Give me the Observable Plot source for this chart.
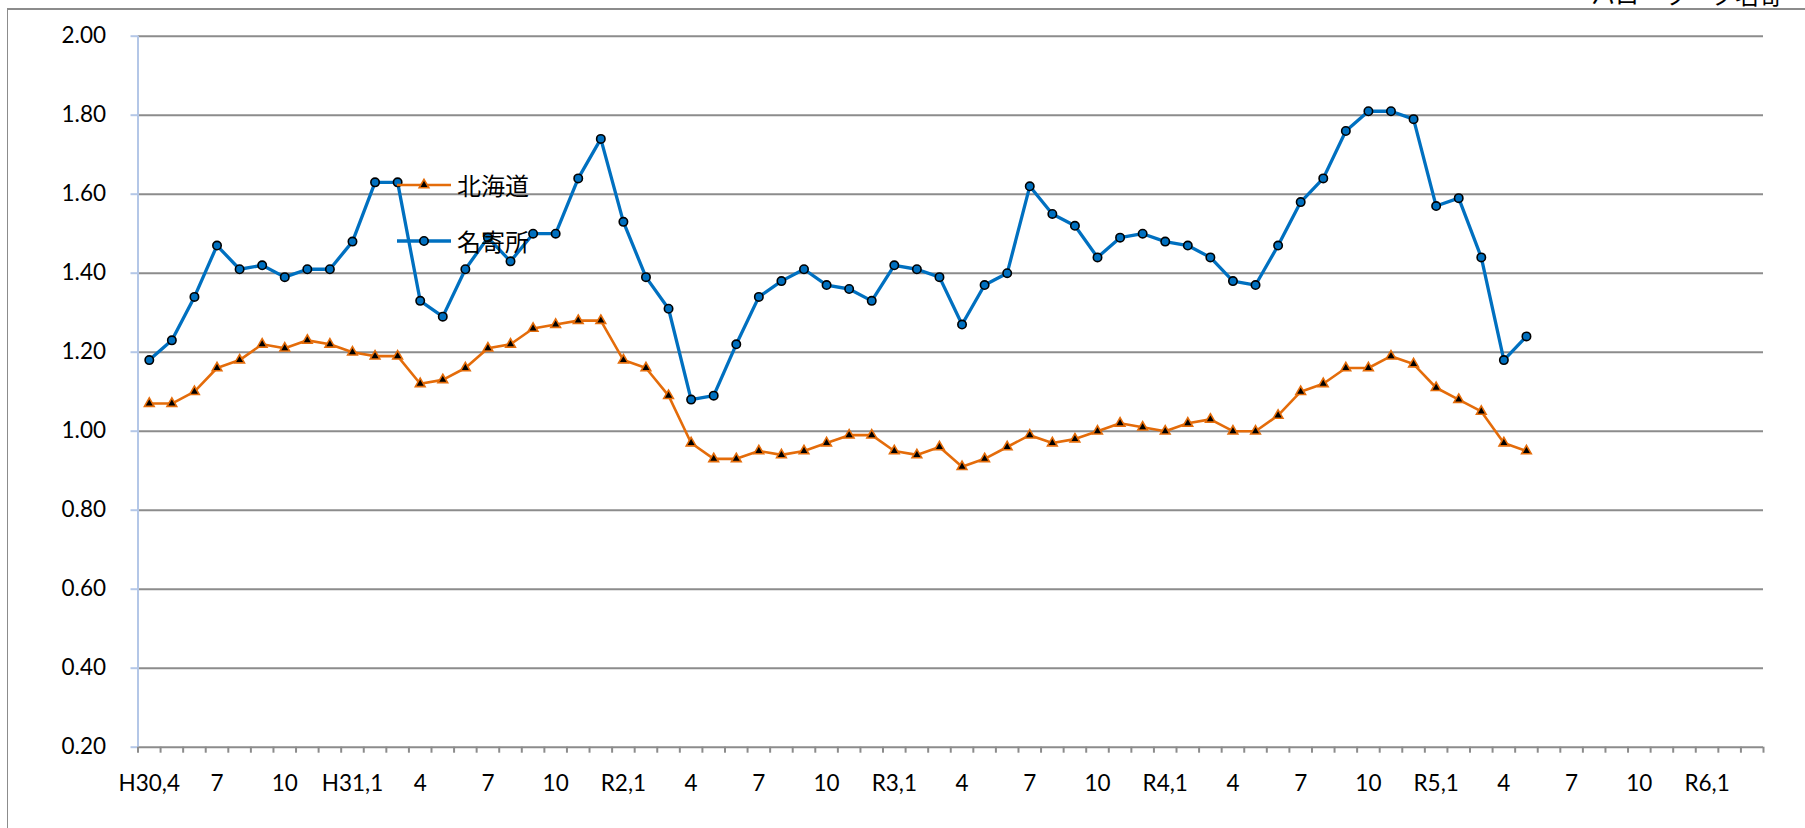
<!DOCTYPE html>
<html>
<head>
<meta charset="utf-8">
<script src="https://cdn.jsdelivr.net/npm/d3@7"></script>
<script src="https://cdn.jsdelivr.net/npm/@observablehq/plot@0.6"></script>
<style>
  html, body { margin: 0; padding: 0; background: #fff; overflow: hidden; }
  #wrap { position: relative; width: 1805px; height: 828px; }
  #frame { position: absolute; left: 7px; top: 8px; width: 1798px; height: 820px;
           border-top: 2px solid #8c8c8c; border-left: 1.5px solid #8c8c8c; box-sizing: border-box; }
  #chart { position: absolute; left: 0; top: 0; }
  #src { position: absolute; right: 22px; top: -18px; font: 24px/24px "Noto Sans CJK JP"; color: #000; white-space: nowrap; }
  .leg { position: absolute; display: flex; align-items: center; height: 30px; }
  .leg span { font: 24px/30px "Noto Sans CJK JP"; color: #000; margin-left: 4px; }
</style>
</head>
<body>
<div id="wrap">
  <div id="frame"></div>
  <div id="src">ハローワーク名寄</div>
  <div id="chart"></div>
  <div class="leg" id="leg1" style="left:397px; top:170px;"></div>
  <div class="leg" id="leg2" style="left:397px; top:226px;"></div>
</div>
<script>
// ---- data (monthly, starting H30.4 = April 2018) ----
const seriesNames = ["北海道", "名寄所"];
const seriesColors = ["#e46c0a", "#0070c0"];

// 北海道
const hokkaido = [
  1.07, 1.07, 1.10, 1.16, 1.18, 1.22, 1.21, 1.23, 1.22, 1.20, 1.19, 1.19,
  1.12, 1.13, 1.16, 1.21, 1.22, 1.26, 1.27, 1.28, 1.28, 1.18, 1.16, 1.09,
  0.97, 0.93, 0.93, 0.95, 0.94, 0.95, 0.97, 0.99, 0.99, 0.95, 0.94, 0.96,
  0.91, 0.93, 0.96, 0.99, 0.97, 0.98, 1.00, 1.02, 1.01, 1.00, 1.02, 1.03,
  1.00, 1.00, 1.04, 1.10, 1.12, 1.16, 1.16, 1.19, 1.17, 1.11, 1.08, 1.05,
  0.97, 0.95
];
// 名寄所
const nayoro = [
  1.18, 1.23, 1.34, 1.47, 1.41, 1.42, 1.39, 1.41, 1.41, 1.48, 1.63, 1.63,
  1.33, 1.29, 1.41, 1.49, 1.43, 1.50, 1.50, 1.64, 1.74, 1.53, 1.39, 1.31,
  1.08, 1.09, 1.22, 1.34, 1.38, 1.41, 1.37, 1.36, 1.33, 1.42, 1.41, 1.39,
  1.27, 1.37, 1.40, 1.62, 1.55, 1.52, 1.44, 1.49, 1.50, 1.48, 1.47, 1.44,
  1.38, 1.37, 1.47, 1.58, 1.64, 1.76, 1.81, 1.81, 1.79, 1.57, 1.59, 1.44,
  1.18, 1.24
];

// x categories: 72 months, H30.4 .. R6.3; labels every 3 months
const monthCount = 72;
const tickLabels = ["H30,4","7","10","H31,1","4","7","10","R2,1","4","7","10","R3,1",
                    "4","7","10","R4,1","4","7","10","R5,1","4","7","10","R6,1"];
const yTicks = [0.20, 0.40, 0.60, 0.80, 1.00, 1.20, 1.40, 1.60, 1.80, 2.00];

// ---- derived ----
const labelIdx = tickLabels.map((_, k) => k * 3);
const boundaries = d3.range(monthCount + 1).map(i => i - 0.5);
const hk = hokkaido.map((v, i) => ({i, v}));
const ny = nayoro.map((v, i) => ({i, v}));

const GRID = "#8c8c8c";
const AXISBLUE = "#b4c7e7";

const plot = Plot.plot({
  width: 1805,
  height: 828,
  marginLeft: 137.5,
  marginRight: 42,
  marginTop: 35.7,
  marginBottom: 81.3,
  style: {background: "transparent", fontFamily: "Lato, 'Open Sans', sans-serif", fontSize: "22.5px", color: "#000"},
  x: {type: "linear", domain: [-0.5, monthCount - 0.5], label: null},
  y: {type: "linear", domain: [0.2, 2.0], label: null},
  marks: [
    Plot.ruleY(yTicks, {stroke: GRID, strokeWidth: 2}),
    Plot.ruleX([-0.5], {stroke: AXISBLUE, strokeWidth: 2}),
    Plot.axisY(yTicks, {tickSize: 7, stroke: AXISBLUE, strokeWidth: 2, tickFormat: () => "", label: null}),
    Plot.axisY(yTicks, {tickSize: 0, tickPadding: 32, tickFormat: d3.format(".2f"), fill: "#000", label: null}),
    Plot.axisX(boundaries, {tickSize: 6, stroke: GRID, strokeWidth: 2, tickFormat: () => "", label: null}),
    Plot.axisX(labelIdx, {tickSize: 0, tickPadding: 28, tickFormat: (d) => tickLabels[d / 3], fill: "#000", label: null}),
    Plot.line(hk, {x: "i", y: "v", stroke: seriesColors[0], strokeWidth: 2.6}),
    Plot.dot(hk, {x: "i", y: "v", symbol: "triangle", r: 3.6, fill: "#000", stroke: seriesColors[0], strokeWidth: 1.6}),
    Plot.line(ny, {x: "i", y: "v", stroke: seriesColors[1], strokeWidth: 3.3}),
    Plot.dot(ny, {x: "i", y: "v", symbol: "circle", r: 4.2, fill: seriesColors[1], stroke: "#000", strokeWidth: 1.6})
  ]
});
document.getElementById("chart").appendChild(plot);

// ---- legend ----
function swatch(color, sym, r, fill, stroke, lw) {
  const svg = d3.create("svg").attr("width", 56).attr("height", 30);
  svg.append("line").attr("x1", 0).attr("x2", 54).attr("y1", 15).attr("y2", 15)
     .attr("stroke", color).attr("stroke-width", lw);
  svg.append("path").attr("transform", "translate(27,15)")
     .attr("d", d3.symbol(sym, Math.PI * r * r)())
     .attr("fill", fill).attr("stroke", stroke).attr("stroke-width", 1.6);
  return svg.node();
}
const l1 = document.getElementById("leg1");
l1.appendChild(swatch(seriesColors[0], d3.symbolTriangle, 3.6, "#000", seriesColors[0], 2.6));
const s1 = document.createElement("span"); s1.textContent = seriesNames[0]; l1.appendChild(s1);
const l2 = document.getElementById("leg2");
l2.appendChild(swatch(seriesColors[1], d3.symbolCircle, 4.2, seriesColors[1], "#000", 3.3));
const s2 = document.createElement("span"); s2.textContent = seriesNames[1]; l2.appendChild(s2);
</script>
</body>
</html>
